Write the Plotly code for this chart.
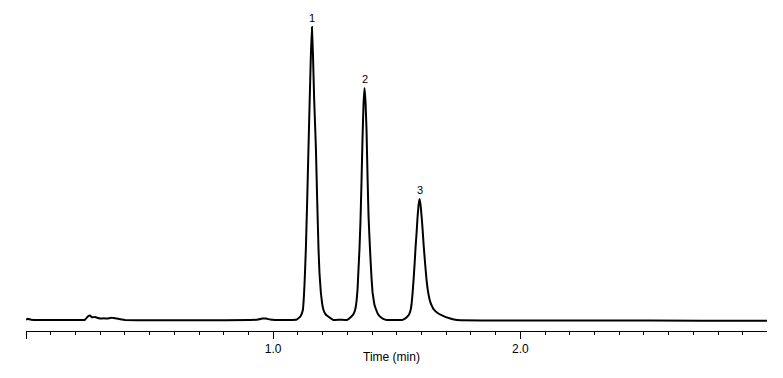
import plotly.graph_objects as go

# Chromatogram trace: time (min) and detector signal (mAU)
time_min = [
    0.000, 0.0081, 0.0202, 0.0567, 0.1377, 0.2186, 0.2389, 0.2522, 0.2591, 0.2660,
    0.2794, 0.2915, 0.2996, 0.3158, 0.3279, 0.3401, 0.3482, 0.3672, 0.3874, 0.4008,
    0.5020, 0.7045, 0.9069, 0.9393, 0.9555, 0.9717, 0.9879, 1.0081, 1.0688,
    # peak 1
    1.0757, 1.0931, 1.1024, 1.1113, 1.1202, 1.1235, 1.1267, 1.1296, 1.1324, 1.1377,
    1.1429, 1.1478, 1.1526, 1.1567, 1.1611, 1.1660, 1.1729, 1.1781, 1.1834, 1.1874,
    1.1931, 1.1984, 1.2036, 1.2126, 1.2239, 1.2441, 1.2713,
    # peak 2
    1.2984, 1.3146, 1.3251, 1.3320, 1.3372, 1.3413, 1.3453, 1.3494, 1.3534, 1.3575,
    1.3615, 1.3656, 1.3696, 1.3737, 1.3777, 1.3818, 1.3858, 1.3899, 1.3939, 1.3980,
    1.4020, 1.4061, 1.4101, 1.4170, 1.4243, 1.4332, 1.4453, 1.4603, 1.5000,
    # peak 3
    1.5211, 1.5316, 1.5413, 1.5498, 1.5559, 1.5599, 1.5640, 1.5680, 1.5721, 1.5761,
    1.5802, 1.5842, 1.5883, 1.5923, 1.5964, 1.6004, 1.6045, 1.6085, 1.6126, 1.6166,
    1.6206, 1.6247, 1.6287, 1.6356, 1.6425, 1.6490, 1.6628, 1.6830, 1.7166, 1.7437,
    1.9190, 2.3239, 2.7287, 3.0000,
]
signal_mau = [
    0.10, 0.24, 0.06, 0.00, 0.00, 0.00, 0.04, 0.80, 0.90, 0.54,
    0.60, 0.40, 0.30, 0.34, 0.28, 0.40, 0.44, 0.28, 0.10, 0.00,
    -0.04, -0.06, 0.00, 0.08, 0.30, 0.28, 0.08, 0.00, 0.00,
    # peak 1
    0.00, 0.04, 0.34, 0.80, 2.00, 4.00, 7.00, 10.6, 14.4, 24.0,
    34.4, 44.0, 53.0, 58.6, 53.0, 44.0, 34.4, 24.0, 14.4, 9.40,
    5.40, 3.20, 2.00, 1.10, 0.66, 0.00, 0.04,
    # peak 2
    0.00, 0.60, 1.21, 2.09, 3.71, 6.03, 10.2, 14.4, 20.0, 27.8,
    36.2, 43.2, 46.4, 43.6, 38.0, 28.8, 20.9, 16.2, 12.1, 8.35,
    5.57, 4.18, 3.02, 2.00, 1.16, 0.65, 0.23, 0.00, 0.00,
    # peak 3
    0.00, 0.24, 0.61, 1.09, 1.94, 3.15, 5.32, 7.99, 11.1, 14.5,
    17.4, 20.6, 23.0, 24.2, 23.0, 20.8, 18.2, 15.2, 12.6, 10.2,
    7.99, 6.29, 5.08, 3.63, 2.78, 2.18, 1.50, 0.92, 0.29, 0.00,
    -0.10, -0.10, -0.14, -0.14,
]

peak_labels = ["1", "2", "3"]
peak_times = [1.1567, 1.3696, 1.5923]
peak_heights = [58.6, 46.4, 24.2]

tick_vals = [0.0, 1.0, 2.0]
tick_text = ["", "1.0", "2.0"]
x_title = "Time (min)"

FONT = "Liberation Sans, Arial, sans-serif"

fig = go.Figure()
fig.add_trace(go.Scatter(
    x=time_min, y=signal_mau, mode="lines",
    line=dict(color="black", width=2, shape="spline", smoothing=0.2),
    hoverinfo="skip", showlegend=False,
))

for lab, t, h in zip(peak_labels, peak_times, peak_heights):
    fig.add_annotation(x=t, y=h, text=lab, showarrow=False, yanchor="middle",
                       yshift=9, font=dict(family=FONT, size=11, color="#000000"))

fig.add_annotation(x=1.48, y=0, xref="x", yref="paper", text=x_title,
                   showarrow=False, yanchor="middle", yshift=-26,
                   font=dict(family=FONT, size=12, color="#000000"))

fig.update_layout(
    width=783, height=378,
    margin=dict(l=26, r=16, t=10, b=47),
    paper_bgcolor="white", plot_bgcolor="white",
    font=dict(family=FONT, size=12, color="#000000"),
    xaxis=dict(
        range=[0, 2.998], showgrid=False, zeroline=False,
        showline=True, linecolor="black", linewidth=1,
        ticks="outside", ticklen=7, tickwidth=1, tickcolor="black",
        tickvals=tick_vals, ticktext=tick_text,
        tickfont=dict(family=FONT, size=12, color="#000000"),
        minor=dict(dtick=0.1, tick0=0, ticks="outside", ticklen=3,
                   tickwidth=1, tickcolor="black", showgrid=False),
    ),
    yaxis=dict(range=[-2.2, 62.0], visible=False),
)

fig.write_html("out.html", config={"displayModeBar": False},
               post_script="document.body.style.margin='0';")
